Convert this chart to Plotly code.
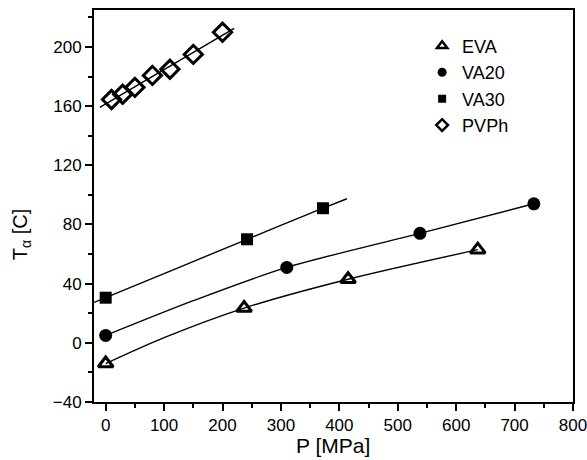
import plotly.graph_objects as go

# Data
eva_p = [0, 237, 415, 637]
eva_t = [-14, 23.5, 43, 63]
va20_p = [0, 310, 538, 733]
va20_t = [5, 51, 74, 94]
va30_p = [0, 242, 372]
va30_t = [30.5, 70, 91]
pvph_p = [10, 29, 50, 80, 110, 150, 200]
pvph_t = [164.5, 168, 172.7, 180.8, 185, 195, 210]

# fit curves
eva_fit_p = [0, 100, 237, 415, 637]
eva_fit_t = [-14, 3.5, 23.5, 43, 63]
va20_fit_p = [0, 150, 310, 538, 733]
va20_fit_t = [5, 28.5, 51, 74, 94]
va30_fit_p = [-20, 0, 242, 372, 413]
va30_fit_t = [27.3, 30.5, 70, 91, 97.4]
pvph_fit_p = [-10, 220]
pvph_fit_t = [159.2, 212.6]

series_names = ["EVA", "VA20", "VA30", "PVPh"]
x_title = "P [MPa]"
y_title = "T<sub>α</sub> [C]"

FONT = "Liberation Sans, Arial, sans-serif"

fig = go.Figure()
for fx, fy in [(eva_fit_p, eva_fit_t), (va20_fit_p, va20_fit_t),
               (va30_fit_p, va30_fit_t), (pvph_fit_p, pvph_fit_t)]:
    fig.add_trace(go.Scatter(x=fx, y=fy, mode="lines", showlegend=False,
                             line=dict(color="black", width=1.4, shape="spline", smoothing=0.8),
                             hoverinfo="skip"))

markers = [
    dict(symbol="triangle-up-open", size=13, color="black", line=dict(width=3, color="black")),
    dict(symbol="circle", size=13, color="black"),
    dict(symbol="square", size=12, color="black"),
    dict(symbol="diamond-open", size=14, color="black", line=dict(width=3, color="black")),
]
legend_markers = [
    dict(symbol="triangle-up-open", size=9, color="black", line=dict(width=2.5, color="black")),
    dict(symbol="circle", size=9, color="black"),
    dict(symbol="square", size=8, color="black"),
    dict(symbol="diamond-open", size=9, color="black", line=dict(width=2.5, color="black")),
]
for name, px, ty, mk, lmk in zip(series_names, [eva_p, va20_p, va30_p, pvph_p],
                                 [eva_t, va20_t, va30_t, pvph_t], markers, legend_markers):
    fig.add_trace(go.Scatter(x=px, y=ty, mode="markers", name=name, showlegend=False,
                             marker=mk))
    fig.add_trace(go.Scatter(x=[None], y=[None], mode="markers", name=name,
                             marker=lmk, showlegend=True))

axis_common = dict(showgrid=False, zeroline=False, showline=True, linecolor="black",
                   linewidth=2, mirror=True, ticks="outside", ticklen=7, tickwidth=1.5,
                   tickcolor="black", tickfont=dict(family=FONT, size=17, color="black"),
                   automargin=False, ticklabeloverflow="allow")

fig.update_xaxes(range=[-20, 800], tickvals=[0, 100, 200, 300, 400, 500, 600, 700, 800],
                 minor=dict(tickvals=[50, 150, 250, 350, 450, 550, 650, 750], ticks="outside",
                            ticklen=4, tickwidth=1.5, tickcolor="black"),
                 **axis_common)
fig.update_yaxes(range=[-40, 225], tickvals=[-40, 0, 40, 80, 120, 160, 200],
                 minor=dict(tickvals=[-20, 20, 60, 100, 140, 180, 220], ticks="outside",
                            ticklen=4, tickwidth=1.5, tickcolor="black"),
                 **axis_common)

fig.add_annotation(text=x_title, xref="paper", yref="paper", x=0.499, y=-0.110,
                   xanchor="center", yanchor="middle", showarrow=False,
                   font=dict(family=FONT, size=21, color="black"))
fig.add_annotation(text=y_title, xref="paper", yref="paper", x=-0.152, y=0.426,
                   xanchor="center", yanchor="middle", showarrow=False, textangle=-90,
                   font=dict(family=FONT, size=20, color="black"))

fig.update_layout(
    width=587, height=460,
    margin=dict(l=94, r=14, t=10, b=58),
    paper_bgcolor="white", plot_bgcolor="white",
    showlegend=True,
    legend=dict(x=0.685, y=0.955, xanchor="left", yanchor="top",
                font=dict(family=FONT, size=18, color="black"),
                bgcolor="rgba(0,0,0,0)", tracegroupgap=0, itemsizing="trace"),
)

fig.write_html("out.html")
